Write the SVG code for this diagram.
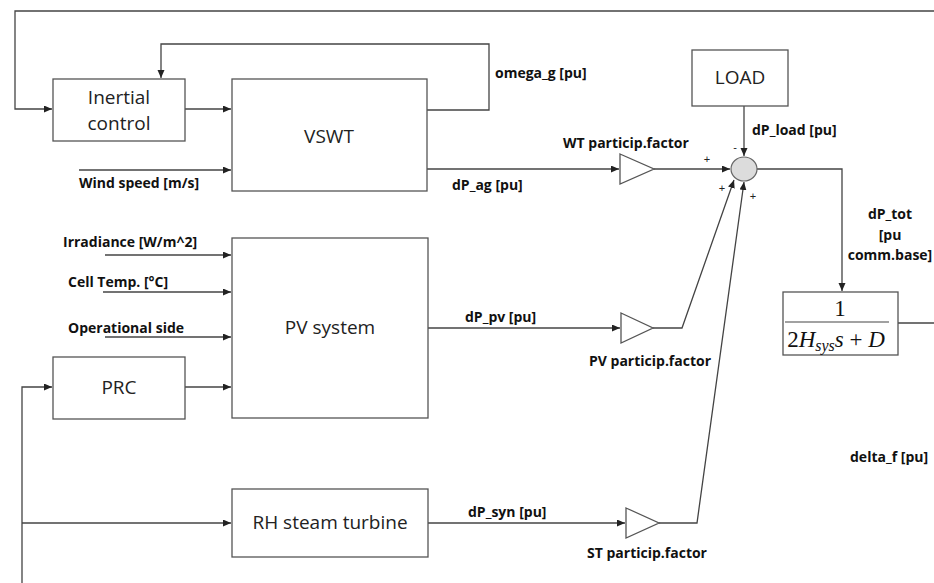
<svg xmlns="http://www.w3.org/2000/svg" width="934" height="583" viewBox="0 0 934 583">
<style>
.box{fill:#fff;stroke:#555;stroke-width:1.3}
.ln{fill:none;stroke:#444;stroke-width:1.3}
.bl{font-family:"Open Sans","Liberation Sans",sans-serif;font-size:19px;fill:#222}
.lb{font-family:"Open Sans","Liberation Sans",sans-serif;font-size:14px;font-weight:700;fill:#111}
.sg{font-family:"Liberation Sans",sans-serif;font-size:11px;fill:#222}
.mt{font-family:"Liberation Serif",serif;font-size:23px;fill:#111}
</style>
<defs>
<marker id="ah" markerUnits="userSpaceOnUse" markerWidth="9" markerHeight="8" refX="8" refY="3.5" orient="auto">
<path d="M0,0 L8,3.5 L0,7 z" fill="#222"/>
</marker>
</defs>
<g id="connectors">
<path class="ln" d="M934,11 H15 V109 H52" marker-end="url(#ah)"/>
<path class="ln" d="M427,110 H489 V44 H161 V78" marker-end="url(#ah)"/>
<path class="ln" d="M185,109 H231" marker-end="url(#ah)"/>
<path class="ln" d="M79,170 H231" marker-end="url(#ah)"/>
<path class="ln" d="M427,169 H619" marker-end="url(#ah)"/>
<path class="ln" d="M654,169 H730" marker-end="url(#ah)"/>
<path class="ln" d="M744,106 V156" marker-end="url(#ah)"/>
<path class="ln" d="M105,255 H231" marker-end="url(#ah)"/>
<path class="ln" d="M103,292 H231" marker-end="url(#ah)"/>
<path class="ln" d="M105,337 H231" marker-end="url(#ah)"/>
<path class="ln" d="M185,387 H231" marker-end="url(#ah)"/>
<path class="ln" d="M22,583 V387 H52" marker-end="url(#ah)"/>
<path class="ln" d="M22,523 H231" marker-end="url(#ah)"/>
<path class="ln" d="M428,328 H620" marker-end="url(#ah)"/>
<path class="ln" d="M653,328 H682 L734,180" marker-end="url(#ah)"/>
<path class="ln" d="M428,523 H625" marker-end="url(#ah)"/>
<path class="ln" d="M659,523 H697 L744,182" marker-end="url(#ah)"/>
<path class="ln" d="M757,169 H842 V291" marker-end="url(#ah)"/>
<path class="ln" d="M898,323 H934"/>
</g>
<g id="inertial-control">
<rect class="box" x="53" y="79" width="132" height="62"/>
<text class="bl" x="119" y="104" text-anchor="middle">Inertial</text>
<text class="bl" x="119" y="130" text-anchor="middle">control</text>
</g>
<g id="vswt">
<rect class="box" x="232" y="79" width="195" height="112"/>
<text class="bl" x="329" y="143" text-anchor="middle">VSWT</text>
</g>
<g id="pv-system">
<rect class="box" x="232" y="238" width="196" height="180"/>
<text class="bl" x="330" y="334" text-anchor="middle">PV system</text>
</g>
<g id="prc">
<rect class="box" x="53" y="357" width="132" height="62"/>
<text class="bl" x="119" y="394" text-anchor="middle">PRC</text>
</g>
<g id="rh-steam-turbine">
<rect class="box" x="232" y="489" width="196" height="68"/>
<text class="bl" x="330" y="529" text-anchor="middle">RH steam turbine</text>
</g>
<g id="load">
<rect class="box" x="692" y="50" width="96" height="56"/>
<text class="bl" x="740" y="84" text-anchor="middle">LOAD</text>
</g>
<g id="wt-gain">
<path class="box" d="M620,154 L654,169 L620,184 z"/>
</g>
<g id="pv-gain">
<path class="box" d="M621,313 L653,328 L621,343 z"/>
</g>
<g id="st-gain">
<path class="box" d="M626,508 L659,523 L626,538 z"/>
</g>
<g id="sum">
<ellipse cx="744" cy="169" rx="13" ry="12" fill="#dcdcdc" stroke="#666" stroke-width="1.2"/>
<text class="sg" x="735" y="151" text-anchor="middle">-</text>
<text class="sg" x="707" y="163" text-anchor="middle">+</text>
<text class="sg" x="722" y="192" text-anchor="middle">+</text>
<text class="sg" x="753" y="200" text-anchor="middle">+</text>
</g>
<g id="transfer-function">
<rect class="box" x="783" y="292" width="115" height="63"/>
<text class="mt" x="840" y="316" text-anchor="middle">1</text>
<line x1="785" y1="322" x2="889" y2="322" stroke="#444" stroke-width="1.2"/>
<text class="mt" x="836" y="347" text-anchor="middle">2<tspan font-style="italic">H</tspan><tspan font-style="italic" font-size="16" dy="4">sys</tspan><tspan font-style="italic" dy="-4">s</tspan> + <tspan font-style="italic">D</tspan></text>
</g>
<g id="labels">
<text class="lb" x="79" y="188">Wind speed [m/s]</text>
<text class="lb" x="495" y="78">omega_g [pu]</text>
<text class="lb" x="563" y="148">WT particip.factor</text>
<text class="lb" x="452" y="190">dP_ag [pu]</text>
<text class="lb" x="752" y="135">dP_load [pu]</text>
<text class="lb" x="890" y="219" text-anchor="middle">dP_tot</text>
<text class="lb" x="890" y="240" text-anchor="middle">[pu</text>
<text class="lb" x="890" y="260" text-anchor="middle">comm.base]</text>
<text class="lb" x="63" y="247">Irradiance [W/m^2]</text>
<text class="lb" x="68" y="287">Cell Temp. [°C]</text>
<text class="lb" x="68" y="333">Operational side</text>
<text class="lb" x="465" y="322">dP_pv [pu]</text>
<text class="lb" x="589" y="366">PV particip.factor</text>
<text class="lb" x="468" y="517">dP_syn [pu]</text>
<text class="lb" x="587" y="558">ST particip.factor</text>
<text class="lb" x="850" y="462">delta_f [pu]</text>
</g>
</svg>
